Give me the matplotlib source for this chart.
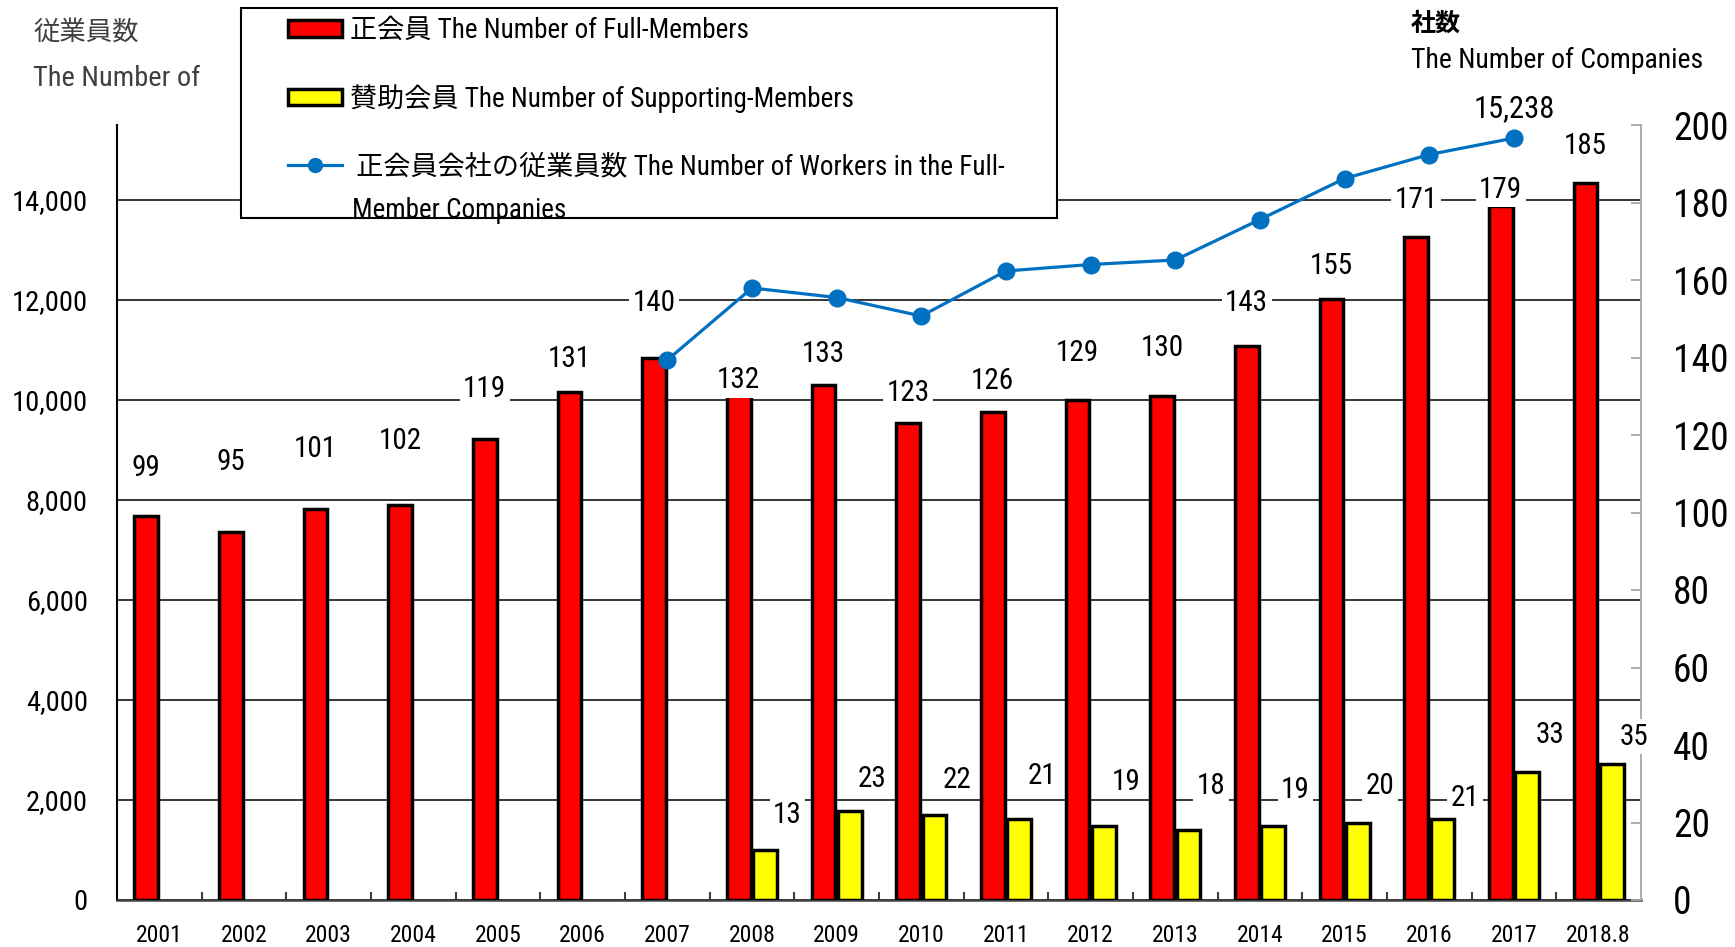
import matplotlib.pyplot as plt
from matplotlib.patches import Patch, Rectangle
from matplotlib.lines import Line2D
import numpy as np

plt.rcParams['font.family'] = ['Roboto Condensed', 'Noto Sans Condensed', 'Open Sans Condensed',
                               'Noto Sans', 'Noto Sans CJK JP']
plt.rcParams['font.stretch'] = 'condensed'

# data
years = ['2001', '2002', '2003', '2004', '2005', '2006', '2007', '2008', '2009',
         '2010', '2011', '2012', '2013', '2014', '2015', '2016', '2017', '2018.8']
full_members = [99, 95, 101, 102, 119, 131, 140, 132, 133, 123, 126, 129, 130, 143, 155, 171, 179, 185]

support_years = ['2008', '2009', '2010', '2011', '2012', '2013', '2014', '2015', '2016', '2017', '2018.8']
support_members = [13, 23, 22, 21, 19, 18, 19, 20, 21, 33, 35]

worker_years = ['2007', '2008', '2009', '2010', '2011', '2012', '2013', '2014', '2015', '2016', '2017']
workers = [10800, 12240, 12050, 11680, 12580, 12710, 12800, 13610, 14430, 14910, 15238]

left_ticks = [0, 2000, 4000, 6000, 8000, 10000, 12000, 14000]
right_ticks = [0, 20, 40, 60, 80, 100, 120, 140, 160, 180, 200]

# label offsets (points above bar top)
full_lbl_dy = [35, 50, 43, 46, 36, 24, 39, 6, 22, 22, 22, 34, 35, 31, 24, 27, 12, 27]
supp_lbl_dy = [25, 23, 25, 31, 32, 32, 26, 26, 15, 27, 20]

x = np.arange(len(years))
xs = np.array([years.index(y) for y in support_years])
xw = np.array([years.index(y) for y in worker_years])

W, H = 1735, 947
fig = plt.figure(figsize=(W / 100, H / 100), dpi=100)
ax = fig.add_axes([117 / W, 1 - 900 / H, (1641 - 117) / W, (900 - 125) / H])

# left axis: workers scale + gridlines
ax.set_xlim(-0.5, len(years) - 0.5)
ax.set_ylim(0, 15500)
ax.set_yticks(left_ticks)
ax.set_yticklabels([f'{v:,}' for v in left_ticks])
ax.tick_params(axis='y', length=0, pad=21, labelsize=20.5)
ax.grid(axis='y', color='black', lw=1.1)
ax.set_xticks(x)
ax.set_xticklabels(years)
ax.tick_params(axis='x', which='major', length=0, labelsize=17, pad=17)
ax.set_xticks(x[:-1] + 0.5, minor=True)
ax.tick_params(axis='x', which='minor', direction='in', length=6, width=1.5, color='#404040')
for s in ['top', 'right']:
    ax.spines[s].set_visible(False)
ax.spines['left'].set_linewidth(1.5)
ax.spines['bottom'].set_linewidth(1.8)
ax.spines['bottom'].set_color('#404040')

# right axis: companies (bars)
axr = ax.twinx()
axr.set_ylim(0, 200)
bw = 0.28
axr.bar(x - 0.157, full_members, bw, color='#FF0000', edgecolor='black', lw=2.5)
axr.bar(xs + 0.157, support_members, bw, color='#FFFF00', edgecolor='black', lw=2.5)
axr.set_yticks(right_ticks)
axr.tick_params(axis='y', direction='in', length=7, width=1.3, color='#A6A6A6', labelsize=27, pad=23)
for s in ['top', 'left', 'bottom']:
    axr.spines[s].set_visible(False)
axr.spines['right'].set_color('#A6A6A6')
axr.spines['right'].set_linewidth(1.3)

# workers line on top
axl = ax.twinx()
axl.set_ylim(0, 15500)
axl.axis('off')
axl.plot(xw, workers, color='#0070C0', lw=2.3, marker='o', ms=12)
axl.annotate(f'{workers[-1]:,}', (xw[-1], workers[-1]), xytext=(0, 21), textcoords='offset points',
             ha='center', va='center', fontsize=22)

box = dict(boxstyle='square,pad=0.12', fc='white', ec='none')
for xi, v, dy in zip(x, full_members, full_lbl_dy):
    axl.annotate(str(v), (xi - 0.157, v), xycoords=axr.transData, xytext=(0, dy),
                 textcoords='offset points', ha='center', va='center', fontsize=21, bbox=box)
for xi, v, dy in zip(xs, support_members, supp_lbl_dy):
    axl.annotate(str(v), (xi + 0.157, v), xycoords=axr.transData, xytext=(16, dy),
                 textcoords='offset points', ha='center', va='center', fontsize=21, bbox=box)

# axis titles
fig.text(33 / W, 1 - 32 / H, '従業員数', ha='left', va='center', fontsize=19, color='#404040')
fig.text(33 / W, 1 - 79 / H, 'The Number of', ha='left', va='center', fontsize=20.5, color='#404040')
fig.text(1411 / W, 1 - 24 / H, '社数', ha='left', va='center', fontsize=18, fontweight='bold')
fig.text(1411 / W, 1 - 60 / H, 'The Number of Companies', ha='left', va='center', fontsize=20)

# legend box + legend
fig.add_artist(Rectangle((241 / W, 1 - 218 / H), 816 / W, 210 / H, transform=fig.transFigure,
                         facecolor='white', edgecolor='black', lw=1.5, zorder=3))
handles = [Patch(facecolor='#FF0000', edgecolor='black', lw=2.5),
           Patch(facecolor='#FFFF00', edgecolor='black', lw=2.5),
           Line2D([], [], color='#0070C0', lw=2.3, marker='o', ms=10)]
labels = ['正会員 The Number of Full-Members',
          '賛助会員 The Number of Supporting-Members',
          ' 正会員会社の従業員数 The Number of Workers in the Full-']
leg = fig.legend(handles, labels, loc='upper left', bbox_to_anchor=(288 / W, 1 - 17 / H),
                 frameon=False, fontsize=19.5, handlelength=2.0, handleheight=0.55,
                 labelspacing=1.48, handletextpad=0.3, borderpad=0, borderaxespad=0)
leg.set_zorder(6)
fig.text(352 / W, 1 - 211 / H, 'Member Companies', ha='left', va='center', fontsize=19.5, zorder=7)

fig.savefig('out.png', dpi=100)
